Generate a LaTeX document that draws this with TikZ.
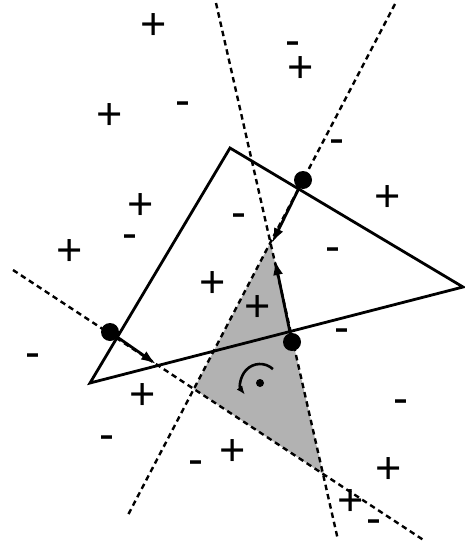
\documentclass[tikz,border=0pt]{standalone}
\usepackage{fontspec}
\setmainfont{Liberation Sans}
\usetikzlibrary{arrows.meta}
\begin{document}
\begin{tikzpicture}[x=1pt,y=-1pt,
  edge/.style={line width=2.8pt, line join=miter},
  cut/.style={line width=2.4pt, dash pattern=on 5.5pt off 4pt},
  push/.style={line width=2.8pt, -{Latex[length=15pt,width=10pt]}},
  dotmark/.style={circle, fill=black, inner sep=0pt, minimum size=18pt},
  sgn/.style={anchor=base, yshift=-0.3em, inner sep=0pt, font=\fontsize{45}{45}\selectfont}]
\useasboundingbox (0,0) rectangle (464,546);
% line end points
\coordinate (L1a) at (216,3);   \coordinate (L1b) at (338,540);
\coordinate (L2a) at (395,4);   \coordinate (L2b) at (128,515);
\coordinate (L3a) at (13,270);  \coordinate (L3b) at (425,541);
\coordinate (A) at (intersection of L1a--L1b and L2a--L2b);
\coordinate (B) at (intersection of L2a--L2b and L3a--L3b);
\coordinate (C) at (intersection of L1a--L1b and L3a--L3b);
% shaded region
\fill[black!30] (A) -- (B) -- (C) -- cycle;
% triangle
\coordinate (T1) at (230,148);
\coordinate (T2) at (463,287);
\coordinate (T3) at (90,383);
\draw[edge] (T1) -- (T2) -- (T3) -- cycle;
% dashed lines
\draw[cut] (L1a) -- (L1b);
\draw[cut] (L2a) -- (L2b);
\draw[cut] (L3a) -- (L3b);
% dots and arrows
\node[dotmark] (D1) at (110,332) {};
\node[dotmark] (D2) at (303,180) {};
\node[dotmark] (D3) at (292,342) {};
\coordinate (E1) at (156,364);
\coordinate (E2) at (272,243);
\coordinate (E3) at (275,260);
\draw[push] (D1.center) -- (E1);
\draw[push] (D2.center) -- (E2);
\draw[push] (D3.center) -- (E3);
% rotation symbol
\node[circle, fill=black, inner sep=0pt, minimum size=8pt] (R) at (260,383) {};
\draw[line width=2.6pt, -{Latex[length=9pt,width=7pt]}] ([shift={(-47:19)}]R.center) arc[start angle=-47, end angle=-218, radius=19];
% signs
\node[sgn] at (154,36) {+};
\node[sgn] at (293,52) {-};
\node[sgn] at (301,79) {+};
\node[sgn] at (110,126) {+};
\node[sgn] at (183,112) {-};
\node[sgn] at (337,150) {-};
\node[sgn] at (141,216) {+};
\node[sgn] at (130,245) {-};
\node[sgn] at (388,208) {+};
\node[sgn] at (239,224) {-};
\node[sgn] at (70,262) {+};
\node[sgn] at (333,258) {-};
\node[sgn] at (213,294) {+};
\node[sgn] at (258,318) {+};
\node[sgn] at (342,339) {-};
\node[sgn] at (33,364) {-};
\node[sgn] at (143,406) {+};
\node[sgn] at (401,410) {-};
\node[sgn] at (107,446) {-};
\node[sgn] at (196,471) {-};
\node[sgn] at (233,462) {+};
\node[sgn] at (389,480) {+};
\node[sgn] at (351,512) {+};
\node[sgn] at (374,530) {-};
\end{tikzpicture}
\end{document}
